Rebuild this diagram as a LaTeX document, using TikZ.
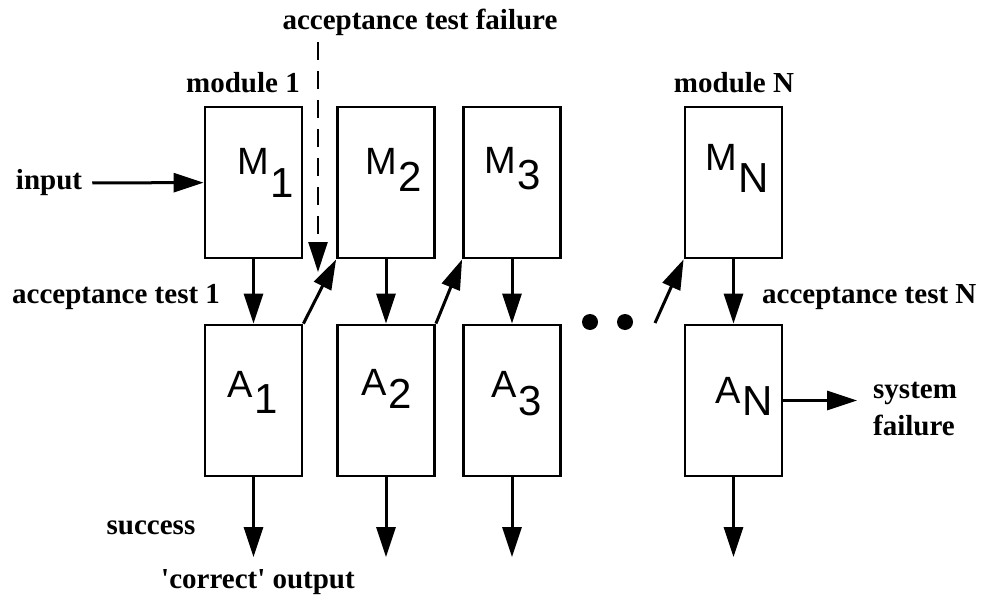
\documentclass[tikz,border=0pt]{standalone}
\usepackage{fontspec}
\newfontfamily\serifbf{Liberation Serif}
\newfontfamily\boxsf{Liberation Sans}
\usetikzlibrary{positioning,arrows.meta}

\tikzset{
  box/.style={draw,line width=2.8pt,minimum width=97pt,minimum height=151pt,inner sep=0pt},
  lbl/.style={font=\serifbf\bfseries\fontsize{29}{33}\selectfont,inner sep=2pt},
  sym/.style={font=\boxsf\fontsize{38}{42}\selectfont,inner sep=0pt,anchor=base west},
  flow/.style={line width=3pt,-{Triangle[length=30pt,width=19pt]}},
  dot/.style={circle,fill,minimum size=16pt,inner sep=0pt},
}
\newcommand{\boxsym}[3]{#1\kern2pt\raisebox{-#3}{\fontsize{42}{46}\selectfont #2}}

\begin{document}
\begin{tikzpicture}[x=1pt,y=-1pt]
\useasboundingbox (0,0) rectangle (985,599);
% modules
\node[box] (m1) at (253.5,182.5) {};
\node[box] (m2) at (386,182.5) {};
\node[box] (m3) at (512,182.5) {};
\node[box] (mN) at (733.5,182.5) {};
% acceptance tests
\node[box] (a1) at (253.5,400.5) {};
\node[box] (a2) at (386,400.5) {};
\node[box] (a3) at (512,400.5) {};
\node[box] (aN) at (733.5,400.5) {};
% box names
\node[sym] (m1s) at (237,175) {\boxsym{M}{1}{22pt}};
\node[sym] (m2s) at (365,175) {\boxsym{M}{2}{17pt}};
\node[sym] (m3s) at (484,173) {\boxsym{M}{3}{17pt}};
\node[sym] (mNs) at (705,170) {\boxsym{M}{N}{22pt}};
\node[sym] (a1s) at (227,397) {\boxsym{A}{1}{16pt}};
\node[sym] (a2s) at (361,395) {\boxsym{A}{2}{13pt}};
\node[sym] (a3s) at (491,397) {\boxsym{A}{3}{18pt}};
\node[sym] (aNs) at (715,403) {\boxsym{A}{N}{12pt}};
% labels
\node[lbl] (atf) at (420,22) {acceptance test failure};
\node[lbl] (mod1) at (243,83) {module 1};
\node[lbl] (modN) at (734,83) {module N};
\node[lbl] (inp) at (49,183) {input};
\node[lbl,anchor=west] (at1) at (10,297) {acceptance test 1};
\node[lbl,anchor=west] (atN) at (760,297) {acceptance test N};
\node[lbl,anchor=west,align=left] (sysf) at (871,409) {system\\[4pt]failure};
\node[lbl] (succ) at (151,528) {success};
\node[lbl] (corr) at (258,582) {'correct' output};
% dots
\node[dot] (d1) at (590,322) {};
\node[dot] (d2) at (625,322) {};
% free ends
\coordinate (ftop) at (318,42);
\coordinate (fbot) at (318,272);
\coordinate (dN) at (655,323);
\foreach \n in {1,2,3,N} \coordinate (o\n) at (a\n.south |- 0,557);
% connectors
\draw[flow,shorten <=8pt] (inp) -- (m1);
\draw[flow] (m1) -- (a1);
\draw[flow] (a1.north east) -- (m2.south west);
\draw[flow] (m2) -- (a2);
\draw[flow] (a2.north east) -- (m3.south west);
\draw[flow] (m3) -- (a3);
\draw[flow] (dN) -- (mN.south west);
\draw[flow] (mN) -- (aN);
\draw[flow,shorten >=14pt] (aN) -- (aN.east -| sysf.west);
\draw[flow,line width=2.5pt,dash pattern=on 18pt off 11pt] (ftop) -- (fbot);
\foreach \n in {1,2,3,N} \draw[flow] (a\n) -- (o\n);
\end{tikzpicture}
\end{document}
